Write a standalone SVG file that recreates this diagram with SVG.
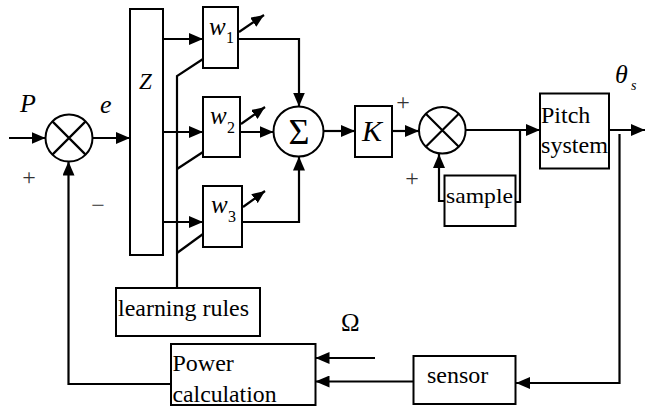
<svg xmlns="http://www.w3.org/2000/svg" width="645" height="407" viewBox="0 0 645 407">
<style>
.bx{fill:#fff;stroke:#000;stroke-width:2}
.ln{fill:none;stroke:#000;stroke-width:2.2}
.t{font-family:"Liberation Serif","Times New Roman",serif;fill:#000}
.it{font-family:"Liberation Serif","Times New Roman",serif;font-style:italic;fill:#000}
.sg{font-family:"Liberation Serif","Times New Roman",serif;fill:#333}
</style>
<defs>
<marker id="ah" viewBox="0 0 14 12" refX="14" refY="6" markerWidth="14" markerHeight="12" markerUnits="userSpaceOnUse" orient="auto"><path d="M0,0 L14,6 L0,12 z" fill="#000"/></marker>
<marker id="as" viewBox="0 0 13 11" refX="13" refY="5.5" markerWidth="13" markerHeight="11" markerUnits="userSpaceOnUse" orient="auto"><path d="M0,0 L13,5.5 L0,11 z" fill="#000"/></marker>
</defs>
<rect width="645" height="407" fill="#fff"/>

<g id="connectors">
<path class="ln" d="M9,138 H45.5" marker-end="url(#ah)"/>
<path class="ln" d="M92.5,138 H130" marker-end="url(#ah)"/>
<path class="ln" d="M163,39 H203" marker-end="url(#ah)"/>
<path class="ln" d="M163,132 H203" marker-end="url(#ah)"/>
<path class="ln" d="M163,222 H203" marker-end="url(#ah)"/>
<path class="ln" d="M238,39 H299 V106.5" marker-end="url(#ah)"/>
<path class="ln" d="M240,132 H273.5" marker-end="url(#ah)"/>
<path class="ln" d="M242,222 H299 V156.5" marker-end="url(#ah)"/>
<path class="ln" d="M323.5,131 H355" marker-end="url(#ah)"/>
<path class="ln" d="M392,131 H419" marker-end="url(#ah)"/>
<path class="ln" d="M465.5,130 H540" marker-end="url(#ah)"/>
<path class="ln" d="M520,130 V202 H515"/>
<path class="ln" d="M445,201 H439 V154" marker-end="url(#ah)"/>
<path class="ln" d="M609,130 H645" marker-end="url(#ah)"/>
<path class="ln" d="M619.5,134 V383 H516" marker-end="url(#ah)"/>
<path class="ln" d="M413,381.5 H315.5" marker-end="url(#ah)"/>
<path class="ln" d="M375,358 H315.5" marker-end="url(#ah)"/>
<path class="ln" d="M171,384 H68.5 V161.5" marker-end="url(#ah)"/>
<path class="ln" d="M177,288 V76 L203,59"/>
<path class="ln" d="M177,169 L203,152"/>
<path class="ln" d="M177,253 L203,234"/>
<path class="ln" d="M239,32 L264,15" marker-end="url(#as)"/>
<path class="ln" d="M241,124 L265,107" marker-end="url(#as)"/>
<path class="ln" d="M243,207 L265,191" marker-end="url(#as)"/>
</g>

<g id="sum1">
<circle class="bx" cx="69" cy="138" r="23.5"/>
<path class="ln" d="M52.4,121.4 L85.6,154.6 M85.6,121.4 L52.4,154.6"/>
</g>
<g id="Z">
<rect class="bx" x="130" y="9" width="33" height="246"/>
<text class="it" x="139" y="89" font-size="23">Z</text>
</g>
<g id="w1">
<rect class="bx" x="203" y="7" width="35" height="61"/>
<text class="it" x="209" y="35" font-size="25">w</text>
<text class="t" x="226" y="43" font-size="16">1</text>
</g>
<g id="w2">
<rect class="bx" x="203" y="97" width="37" height="60"/>
<text class="it" x="210" y="124" font-size="25">w</text>
<text class="t" x="227" y="133" font-size="16">2</text>
</g>
<g id="w3">
<rect class="bx" x="203" y="186" width="39" height="61"/>
<text class="it" x="211" y="213" font-size="25">w</text>
<text class="t" x="228" y="222" font-size="16">3</text>
</g>
<g id="sigma">
<circle class="bx" cx="298.5" cy="131.5" r="25"/>
<text class="t" x="299" y="144" font-size="36" text-anchor="middle">Σ</text>
</g>
<g id="K">
<rect class="bx" x="355" y="106" width="37" height="51"/>
<text class="it" x="362" y="141" font-size="30">K</text>
</g>
<g id="sum2">
<circle class="bx" cx="442.3" cy="130.3" r="23.3"/>
<path class="ln" d="M425.8,113.8 L458.8,146.8 M458.8,113.8 L425.8,146.8"/>
</g>
<g id="sample">
<rect class="bx" x="444.5" y="175.5" width="71" height="50.5"/>
<text class="t" x="446" y="202.5" font-size="22" textLength="67" lengthAdjust="spacingAndGlyphs">sample</text>
</g>
<g id="pitch">
<rect class="bx" x="540" y="93.5" width="69" height="75"/>
<text class="t" x="541" y="123" font-size="24">Pitch</text>
<text class="t" x="541" y="153" font-size="24" textLength="67" lengthAdjust="spacingAndGlyphs">system</text>
</g>
<g id="learning">
<rect class="bx" x="116" y="288" width="144" height="48"/>
<text class="t" x="118" y="316" font-size="24" textLength="131" lengthAdjust="spacingAndGlyphs">learning rules</text>
</g>
<g id="power">
<rect class="bx" x="171" y="344" width="144.5" height="61"/>
<text class="t" x="172.5" y="370.5" font-size="24">Power</text>
<text class="t" x="172.5" y="401.5" font-size="24" textLength="104" lengthAdjust="spacingAndGlyphs">calculation</text>
</g>
<g id="sensor">
<rect class="bx" x="413.5" y="356" width="102" height="48"/>
<text class="t" x="427" y="382.5" font-size="24">sensor</text>
</g>
<g id="labels">
<text class="it" x="20" y="112" font-size="26">P</text>
<text class="it" x="100" y="113" font-size="26">e</text>
<text class="sg" x="29" y="185" font-size="24" text-anchor="middle">+</text>
<text class="sg" x="98" y="213" font-size="24" text-anchor="middle">−</text>
<text class="sg" x="403" y="110" font-size="24" text-anchor="middle">+</text>
<text class="sg" x="412" y="186" font-size="24" text-anchor="middle">+</text>
<text class="it" x="615" y="83" font-size="26">θ</text>
<text class="it" x="631" y="90" font-size="14">s</text>
<text class="t" x="341" y="331" font-size="25">Ω</text>
</g>
</svg>
